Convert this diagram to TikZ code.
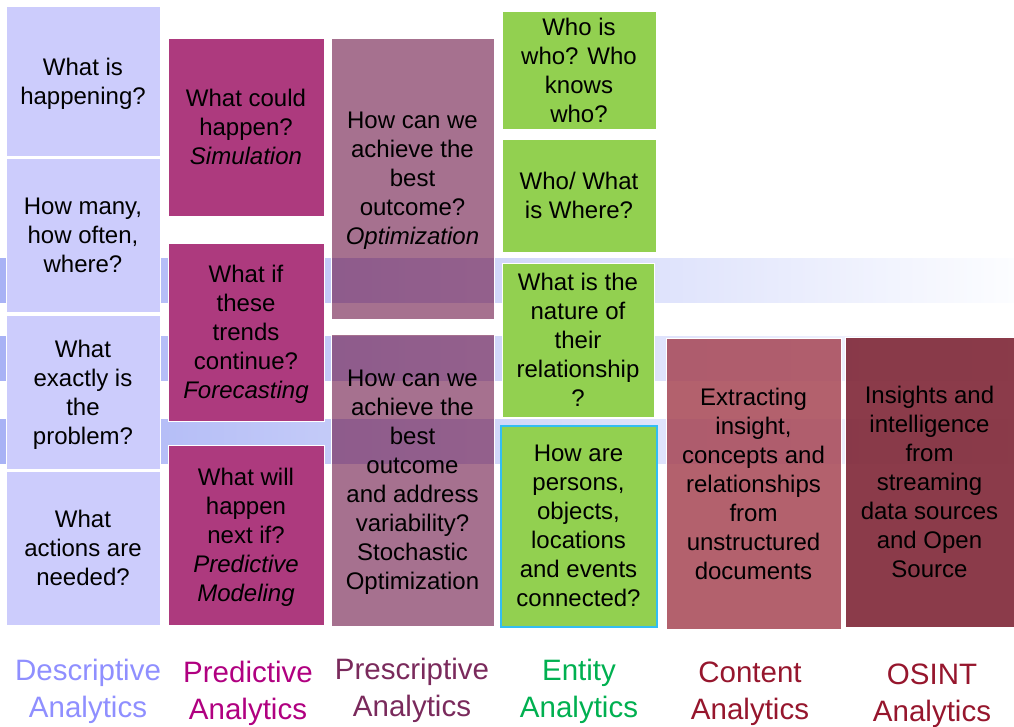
\documentclass[tikz,border=0pt]{standalone}
\usepackage{fontspec}
\setmainfont{Liberation Sans}
\usetikzlibrary{shapes}
\definecolor{descfill}{RGB}{204,204,252}
\definecolor{predfill}{RGB}{173,58,126}
\definecolor{prescfill}{RGB}{107,18,68}
\definecolor{entfill}{RGB}{146,208,80}
\definecolor{contfill}{RGB}{166,69,84}
\definecolor{osintfill}{RGB}{126,38,54}
\definecolor{bandL}{RGB}{168,178,245}
\definecolor{bandM}{RGB}{222,226,249}
\definecolor{bandR}{RGB}{252,253,255}
\definecolor{desctext}{RGB}{143,143,255}
\definecolor{predtext}{RGB}{176,0,128}
\definecolor{presctext}{RGB}{122,42,92}
\definecolor{enttext}{RGB}{0,176,80}
\definecolor{conttext}{RGB}{150,22,45}
\begin{document}
\begin{tikzpicture}[x=1pt,y=-1pt,
    box/.style={rectangle,inner sep=0pt,outer sep=0pt,align=center,draw=white,line width=0.6pt,font=\fontsize{24}{29}\selectfont,text depth=-6pt},
    lbl/.style={align=center,font=\fontsize{29.5}{37}\selectfont}]
                \useasboundingbox (0,0) rectangle (1014,726);
                % bands behind everything
                \shade[left color=bandL,middle color=bandM,right color=bandR] (0,258) rectangle (1014,302);
                \shade[left color=bandL,middle color=bandM,right color=bandR] (0,336) rectangle (1014,380);
                \shade[left color=bandL,middle color=bandM,right color=bandR] (0,419) rectangle (1014,463);
                % descriptive
                \node[box,fill=descfill,minimum width=154pt,minimum height=150pt](desc1)at(83, 81){What is\\happening?};
                \node[box,fill=descfill,minimum width=154pt,minimum height=154pt](desc2)at(83, 235){How many,\\how often,\\where?};
                \node[box,fill=descfill,minimum width=154pt,minimum height=154pt](desc3)at(83, 392){What\\exactly is\\the\\problem?};
                \node[box,fill=descfill,minimum width=154pt,minimum height=154pt](desc4)at(83, 548){What\\actions are\\needed?};
                % predictive
                \node[box,fill=predfill,minimum width=156pt,minimum height=178pt](pred1)at(246, 127){What could\\happen?\\\textit{Simulation}};
                \node[box,fill=predfill,minimum width=156pt,minimum height=178pt](pred2)at(246, 332){What if\\these\\trends\\continue?\\\textit{Forecasting}};
                \node[box,fill=predfill,minimum width=156pt,minimum height=180pt](pred3)at(246, 535){What will\\happen\\next if?\\\textit{Predictive}\\\textit{Modeling}};
                % prescriptive, see-through
                \node[box,fill=prescfill,fill opacity=0.6,text opacity=1,minimum width=163pt,minimum height=281pt](presc1)at(412.5, 178.5){How can we\\achieve the\\best\\outcome?\\\textit{Optimization}};
                \node[box,fill=prescfill,fill opacity=0.6,text opacity=1,minimum width=163pt,minimum height=292pt](presc2)at(412.5, 480){How can we\\achieve the\\best\\outcome\\and address\\variability?\\Stochastic\\Optimization};
                % entity
                \node[box,fill=entfill,minimum width=154pt,minimum height=118pt](ent1)at(579, 70){Who is\\who? Who\\knows\\who?};
                \node[box,fill=entfill,minimum width=154pt,minimum height=113pt](ent2)at(579, 195.5){Who/ What\\is Where?};
                \node[box,fill=entfill,minimum width=152pt,minimum height=154pt](ent3)at(578, 340){What is the\\nature of\\their\\relationship\\?};
                \node[box,fill=entfill,draw=cyan!80,line width=2pt,minimum width=156pt,minimum height=201pt](ent4)at(578.5, 526){How are\\persons,\\objects,\\locations\\and events\\connected?};
                % content and osint
                \node[box,fill=contfill,fill opacity=0.85,text opacity=1,minimum width=175pt,minimum height=291pt](cont)at(753.5, 483.5){Extracting\\insight,\\concepts and\\relationships\\from\\unstructured\\documents};
                \node[box,fill=osintfill,fill opacity=0.9,text opacity=1,minimum width=169pt,minimum height=290pt](osint)at(929.5, 482){Insights and\\intelligence\\from\\streaming\\data sources\\and Open\\Source};
                % column titles
                \node[lbl,text=desctext](descLbl)at(88, 691){Descriptive\\Analytics};
                \node[lbl,text=predtext](predLbl)at(248, 693){Predictive\\Analytics};
                \node[lbl,text=presctext](prescLbl)at(412, 690.5){Prescriptive\\Analytics};
                \node[lbl,text=enttext](entLbl)at(579, 691.5){Entity\\Analytics};
                \node[lbl,text=conttext](contLbl)at(750, 693.5){Content\\Analytics};
                \node[lbl,text=conttext](osintLbl)at(932, 696){OSINT\\Analytics};
            \end{tikzpicture}
\end{document}
